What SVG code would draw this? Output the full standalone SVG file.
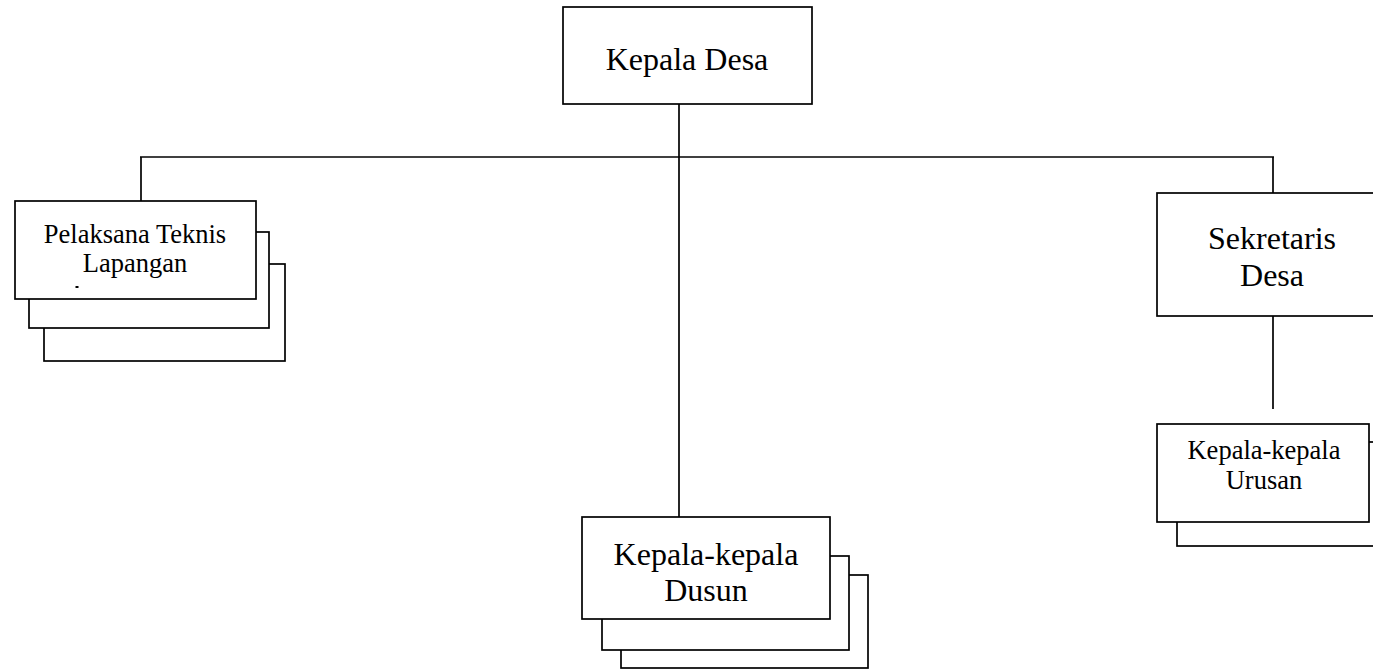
<svg xmlns="http://www.w3.org/2000/svg" width="1373" height="672" viewBox="0 0 1373 672">
<style>
.box{fill:#fff;stroke:#000;stroke-width:1.7}
.ln{fill:none;stroke:#000;stroke-width:1.7}
.big{font-family:"Liberation Serif","Times New Roman",serif;font-size:32px;fill:#000;text-anchor:middle}
.sm{font-family:"Liberation Serif","Times New Roman",serif;font-size:26.5px;fill:#000;text-anchor:middle}
</style>
<rect width="1373" height="672" fill="#fff"/>
<g id="connectors">
<line class="ln" x1="679" y1="104" x2="679" y2="517"/>
<line class="ln" x1="140" y1="157" x2="1274" y2="157"/>
<line class="ln" x1="141" y1="157" x2="141" y2="201"/>
<line class="ln" x1="1273" y1="157" x2="1273" y2="193"/>
<line class="ln" x1="1273" y1="298" x2="1273" y2="409"/>
</g>
<g id="kepala-desa">
<rect class="box" x="563" y="7" width="249" height="97"/>
<text class="big" x="687" y="70">Kepala Desa</text>
</g>
<g id="pelaksana-teknis">
<rect class="box" x="44" y="264" width="241" height="97"/>
<rect class="box" x="29" y="232" width="240" height="96"/>
<rect class="box" x="15" y="201" width="241" height="98"/>
<text class="sm" x="135" y="243">Pelaksana Teknis</text>
<text class="sm" x="135" y="272">Lapangan</text>
<rect x="75.5" y="286" width="3" height="2" fill="#000"/>
</g>
<g id="sekretaris-desa">
<rect class="box" x="1157" y="193" width="240" height="123"/>
<text class="big" x="1272" y="249">Sekretaris</text>
<text class="big" x="1272" y="286">Desa</text>
</g>
<g id="kepala-urusan">
<rect class="box" x="1177" y="442" width="220" height="104"/>
<rect class="box" x="1157" y="424" width="212" height="98"/>
<text class="sm" x="1264" y="459">Kepala-kepala</text>
<text class="sm" x="1264" y="489">Urusan</text>
</g>
<g id="kepala-dusun">
<rect class="box" x="621" y="575" width="247" height="93"/>
<rect class="box" x="602" y="556" width="247" height="94"/>
<rect class="box" x="582" y="517" width="248" height="102"/>
<text class="big" x="706" y="565">Kepala-kepala</text>
<text class="big" x="706" y="601">Dusun</text>
</g>
</svg>
